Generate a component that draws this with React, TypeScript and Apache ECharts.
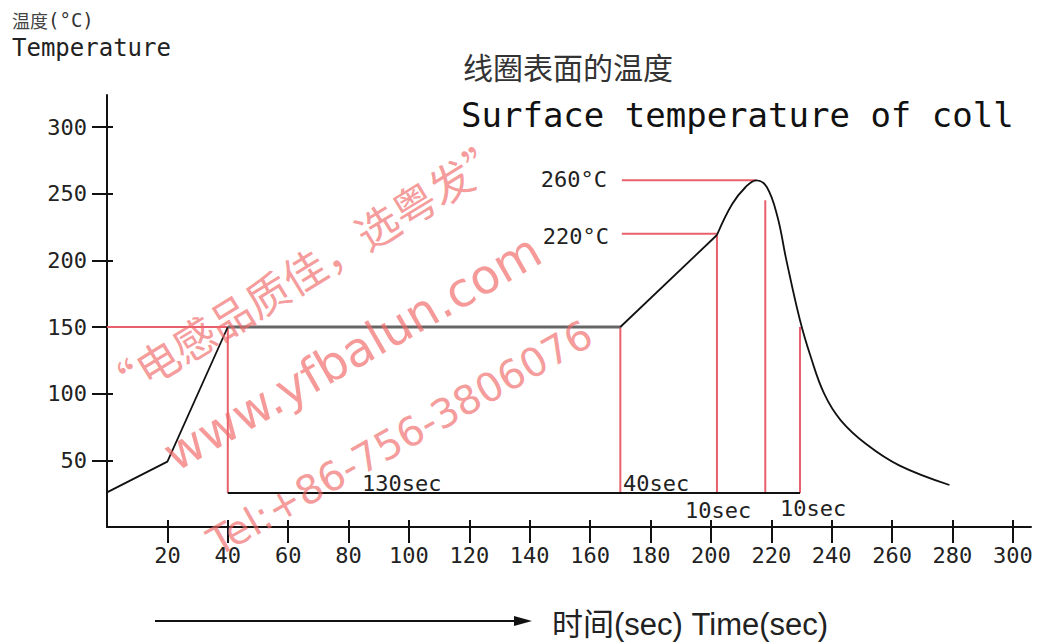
import React, { useEffect, useRef } from "react";
import * as echarts from "echarts";

const xTicks = [20, 40, 60, 80, 100, 120, 140, 160, 180, 200, 220, 240, 260, 280, 300];
const yTicks = [50, 100, 150, 200, 250, 300];

const preheatCurve = [[0, 26], [20, 49], [40, 150]];
const soakCurve = [[40, 150], [170, 150]];
const rampCurve = [[170, 150], [202, 219]];
const peakCurve = [
  [202, 219], [207, 242], [211.5, 255], [215, 260], [218.5, 255], [222, 233],
  [225, 200], [229.5, 155], [233, 128], [237.5, 100], [243, 80], [251.5, 62],
  [262.5, 46], [279, 31.5],
];
const baseLine = [[40, 25.5], [229.5, 25.5]];
const redGuides = [
  [[0, 150], [40, 150]],
  [[40, 150], [40, 25.5]],
  [[170, 150], [170, 25.5]],
  [[202, 219], [202, 25.5]],
  [[218, 245], [218, 25.5]],
  [[229.5, 150], [229.5, 25.5]],
  [[170.5, 260], [215, 260]],
  [[170.5, 220], [202, 220]],
];

const MONO = "DejaVu Sans Mono";
const CJK = "Noto Sans CJK SC";

export default function App() {
  const ref = useRef<HTMLDivElement>(null);
  useEffect(() => {
    if (!ref.current) return;
    const chart = echarts.init(ref.current, null, { renderer: "svg" });
    const axisColor = "#111";
    const red = "#e8606c";
    const wm = "rgba(240,105,105,0.68)";
    const txt = (x: number, y: number, text: string, size: number, family: string, align = "left", fill = "#222") => ({
      type: "text",
      x,
      y,
      z: 50,
      style: { text, fontSize: size, fontFamily: family, fill, align, verticalAlign: "middle" },
    });
    const wmText = (x: number, y: number, text: string, size: number, family: string, rot: number) => ({
      type: "text",
      x,
      y,
      rotation: rot,
      z: 100,
      style: { text, fontSize: size, fontFamily: family, fill: wm, align: "center", verticalAlign: "middle" },
    });
    const guideSeries = redGuides.map((seg) => ({
      type: "line",
      data: seg,
      symbol: "none",
      silent: true,
      lineStyle: { color: red, width: 2 },
      z: 2,
    }));
    chart.setOption({
      animation: false,
      backgroundColor: "#fff",
      grid: { left: 107, right: 15, top: 95, bottom: 117, containLabel: false },
      xAxis: [
        {
          type: "value", min: 0, max: 306, interval: 20, position: "bottom",
          axisLine: { show: true, onZero: false, lineStyle: { color: axisColor, width: 2 } },
          axisTick: { show: true, length: 16, customValues: xTicks, lineStyle: { color: axisColor, width: 2 } },
          axisLabel: { customValues: xTicks, margin: 17, fontFamily: MONO, fontSize: 22, color: "#222" },
          splitLine: { show: false },
        },
        {
          type: "value", min: 0, max: 306, interval: 20, position: "bottom",
          axisLine: { show: false },
          axisTick: { show: true, inside: true, length: 7, customValues: xTicks, lineStyle: { color: axisColor, width: 2 } },
          axisLabel: { show: false },
          splitLine: { show: false },
        },
      ],
      yAxis: [
        {
          type: "value", min: 0, max: 324, interval: 50, position: "left",
          axisLine: { show: true, onZero: false, lineStyle: { color: axisColor, width: 2 } },
          axisTick: { show: true, length: 15, customValues: yTicks, lineStyle: { color: axisColor, width: 2 } },
          axisLabel: { customValues: yTicks, margin: 20, fontFamily: MONO, fontSize: 22, color: "#222" },
          splitLine: { show: false },
        },
        {
          type: "value", min: 0, max: 324, interval: 50, position: "left",
          axisLine: { show: false },
          axisTick: { show: true, inside: true, length: 6, customValues: yTicks, lineStyle: { color: axisColor, width: 2 } },
          axisLabel: { show: false },
          splitLine: { show: false },
        },
      ],
      series: [
        ...guideSeries,
        { type: "line", data: baseLine, symbol: "none", silent: true, lineStyle: { color: "#111", width: 1.8 }, z: 3 },
        { type: "line", data: preheatCurve, symbol: "none", silent: true, lineStyle: { color: "#111", width: 1.8 }, z: 4 },
        { type: "line", data: soakCurve, symbol: "none", silent: true, lineStyle: { color: "#666", width: 3 }, z: 4 },
        { type: "line", data: rampCurve, symbol: "none", silent: true, lineStyle: { color: "#111", width: 1.8 }, z: 4 },
        { type: "line", data: peakCurve, symbol: "none", smooth: 0.4, silent: true, lineStyle: { color: "#111", width: 1.8 }, z: 4 },
      ],
      graphic: [
        txt(12, 20, "温度", 18, CJK, "left", "#444"),
        txt(48, 20, "(°C)", 19, MONO, "left", "#333"),
        txt(12, 48, "Temperature", 24, MONO, "left", "#222"),
        txt(463, 66, "线圈表面的温度", 30, CJK, "left", "#333"),
        txt(461, 115, "Surface temperature of coll", 34, MONO, "left", "#111"),
        txt(607, 179, "260°C", 22, MONO, "right"),
        txt(609, 236, "220°C", 22, MONO, "right"),
        txt(362, 483, "130sec", 22, MONO),
        txt(623, 483, "40sec", 22, MONO),
        txt(685, 510, "10sec", 22, MONO),
        txt(780, 508, "10sec", 22, MONO),
        {
          type: "line", z: 50,
          shape: { x1: 155, y1: 621, x2: 520, y2: 621 },
          style: { stroke: "#111", lineWidth: 2 },
        },
        {
          type: "polygon", z: 50,
          shape: { points: [[514, 616], [532, 621], [514, 626]] },
          style: { fill: "#111" },
        },
        txt(552, 624, "时间(sec) Time(sec)", 31, "Liberation Sans, " + CJK, "left", "#222"),
        wmText(303, 270, "“电感品质佳，选粤发”", 43, CJK, 0.55),
        wmText(352, 352, "www.yfbalun.com", 48, "DejaVu Sans", 0.52),
        wmText(400, 438, "Tel:+86-756-3806076", 40, "DejaVu Sans", 0.515),
      ],
    });
    return () => chart.dispose();
  }, []);
  return <div ref={ref} style={{ position: "fixed", left: 0, top: 0, width: 1046, height: 644 }} />;
}
